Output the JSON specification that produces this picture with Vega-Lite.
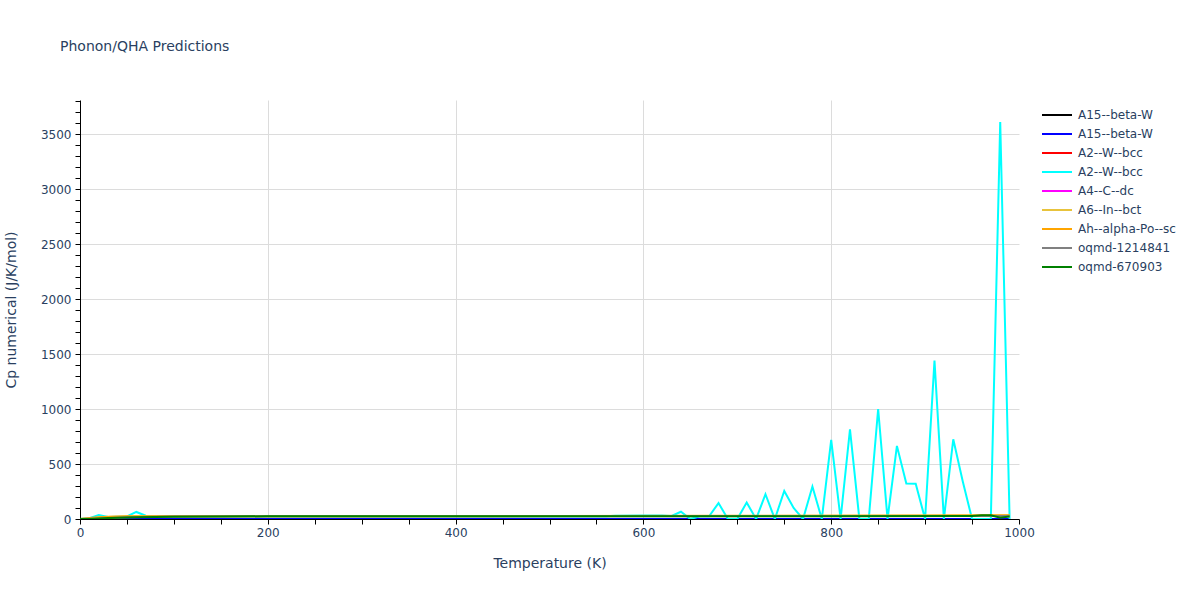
{
  "$schema": "https://vega.github.io/schema/vega-lite/v6.json",
  "autosize": "none",
  "width": 939,
  "height": 419,
  "padding": {"left": 80, "top": 100, "right": 181, "bottom": 81},
  "background": "white",
  "title": {
    "text": "Phonon/QHA Predictions",
    "anchor": "start",
    "frame": "group",
    "dx": -20,
    "offset": 30,
    "baseline": "alphabetic",
    "font": "DejaVu Sans",
    "fontSize": 14,
    "fontWeight": "normal",
    "color": "#2a3f5f"
  },
  "config": {
    "view": {"stroke": null},
    "font": "DejaVu Sans"
  },
  "data": {
    "values": [
      {"s": "A15--beta-W", "T": 0, "cp": 0.5},
      {"s": "A15--beta-W", "T": 990, "cp": 0.5},
      {"s": "A2--W--bcc", "T": 0, "cp": 0.5},
      {"s": "A2--W--bcc", "T": 990, "cp": 0.5},
      {"s": "A4--C--dc", "T": 0, "cp": 0.3},
      {"s": "A4--C--dc", "T": 100, "cp": 0.5},
      {"s": "A15--beta-W #2", "T": 0, "cp": 0.5},
      {"s": "A15--beta-W #2", "T": 990, "cp": 0.8},
      {"s": "A2--W--bcc #2", "T": 0, "cp": 0},
      {"s": "A2--W--bcc #2", "T": 10, "cp": 8},
      {"s": "A2--W--bcc #2", "T": 20, "cp": 36},
      {"s": "A2--W--bcc #2", "T": 30, "cp": 18},
      {"s": "A2--W--bcc #2", "T": 40, "cp": 21},
      {"s": "A2--W--bcc #2", "T": 50, "cp": 23},
      {"s": "A2--W--bcc #2", "T": 60, "cp": 64},
      {"s": "A2--W--bcc #2", "T": 70, "cp": 30},
      {"s": "A2--W--bcc #2", "T": 80, "cp": 26},
      {"s": "A2--W--bcc #2", "T": 90, "cp": 25},
      {"s": "A2--W--bcc #2", "T": 100, "cp": 24.5},
      {"s": "A2--W--bcc #2", "T": 200, "cp": 24.6},
      {"s": "A2--W--bcc #2", "T": 300, "cp": 24.8},
      {"s": "A2--W--bcc #2", "T": 400, "cp": 25},
      {"s": "A2--W--bcc #2", "T": 500, "cp": 25.2},
      {"s": "A2--W--bcc #2", "T": 560, "cp": 25.5},
      {"s": "A2--W--bcc #2", "T": 570, "cp": 30},
      {"s": "A2--W--bcc #2", "T": 600, "cp": 31},
      {"s": "A2--W--bcc #2", "T": 620, "cp": 32},
      {"s": "A2--W--bcc #2", "T": 630, "cp": 28},
      {"s": "A2--W--bcc #2", "T": 640, "cp": 66},
      {"s": "A2--W--bcc #2", "T": 650, "cp": 0},
      {"s": "A2--W--bcc #2", "T": 660, "cp": 24},
      {"s": "A2--W--bcc #2", "T": 670, "cp": 25},
      {"s": "A2--W--bcc #2", "T": 680, "cp": 145},
      {"s": "A2--W--bcc #2", "T": 690, "cp": 0},
      {"s": "A2--W--bcc #2", "T": 700, "cp": 0},
      {"s": "A2--W--bcc #2", "T": 710, "cp": 150},
      {"s": "A2--W--bcc #2", "T": 720, "cp": 0},
      {"s": "A2--W--bcc #2", "T": 730, "cp": 225},
      {"s": "A2--W--bcc #2", "T": 740, "cp": 0},
      {"s": "A2--W--bcc #2", "T": 750, "cp": 255},
      {"s": "A2--W--bcc #2", "T": 760, "cp": 100},
      {"s": "A2--W--bcc #2", "T": 770, "cp": 0},
      {"s": "A2--W--bcc #2", "T": 780, "cp": 295},
      {"s": "A2--W--bcc #2", "T": 790, "cp": 0},
      {"s": "A2--W--bcc #2", "T": 800, "cp": 720},
      {"s": "A2--W--bcc #2", "T": 810, "cp": 0},
      {"s": "A2--W--bcc #2", "T": 820, "cp": 815},
      {"s": "A2--W--bcc #2", "T": 830, "cp": 0},
      {"s": "A2--W--bcc #2", "T": 840, "cp": 0},
      {"s": "A2--W--bcc #2", "T": 850, "cp": 1000},
      {"s": "A2--W--bcc #2", "T": 860, "cp": 0},
      {"s": "A2--W--bcc #2", "T": 870, "cp": 665},
      {"s": "A2--W--bcc #2", "T": 880, "cp": 322},
      {"s": "A2--W--bcc #2", "T": 890, "cp": 320},
      {"s": "A2--W--bcc #2", "T": 900, "cp": 0},
      {"s": "A2--W--bcc #2", "T": 910, "cp": 1440},
      {"s": "A2--W--bcc #2", "T": 920, "cp": 0},
      {"s": "A2--W--bcc #2", "T": 930, "cp": 725},
      {"s": "A2--W--bcc #2", "T": 940, "cp": 345},
      {"s": "A2--W--bcc #2", "T": 950, "cp": 0},
      {"s": "A2--W--bcc #2", "T": 960, "cp": 0},
      {"s": "A2--W--bcc #2", "T": 970, "cp": 0},
      {"s": "A2--W--bcc #2", "T": 980, "cp": 3610},
      {"s": "A2--W--bcc #2", "T": 990, "cp": 0},
      {"s": "A6--In--bct", "T": 0, "cp": 0},
      {"s": "A6--In--bct", "T": 10, "cp": 5},
      {"s": "A6--In--bct", "T": 20, "cp": 14},
      {"s": "A6--In--bct", "T": 30, "cp": 19},
      {"s": "A6--In--bct", "T": 40, "cp": 21.5},
      {"s": "A6--In--bct", "T": 50, "cp": 23},
      {"s": "A6--In--bct", "T": 100, "cp": 24.5},
      {"s": "A6--In--bct", "T": 300, "cp": 25.2},
      {"s": "A6--In--bct", "T": 500, "cp": 26.3},
      {"s": "A6--In--bct", "T": 700, "cp": 28},
      {"s": "A6--In--bct", "T": 900, "cp": 30.5},
      {"s": "A6--In--bct", "T": 990, "cp": 32},
      {"s": "Ah--alpha-Po--sc", "T": 0, "cp": 0},
      {"s": "Ah--alpha-Po--sc", "T": 10, "cp": 8},
      {"s": "Ah--alpha-Po--sc", "T": 20, "cp": 17},
      {"s": "Ah--alpha-Po--sc", "T": 30, "cp": 21},
      {"s": "Ah--alpha-Po--sc", "T": 40, "cp": 23},
      {"s": "Ah--alpha-Po--sc", "T": 50, "cp": 24},
      {"s": "Ah--alpha-Po--sc", "T": 100, "cp": 24.8},
      {"s": "Ah--alpha-Po--sc", "T": 300, "cp": 25.5},
      {"s": "Ah--alpha-Po--sc", "T": 500, "cp": 26.5},
      {"s": "Ah--alpha-Po--sc", "T": 700, "cp": 28.5},
      {"s": "Ah--alpha-Po--sc", "T": 900, "cp": 31},
      {"s": "Ah--alpha-Po--sc", "T": 990, "cp": 33},
      {"s": "oqmd-1214841", "T": 0, "cp": 0},
      {"s": "oqmd-1214841", "T": 20, "cp": 5},
      {"s": "oqmd-1214841", "T": 50, "cp": 15},
      {"s": "oqmd-1214841", "T": 100, "cp": 22},
      {"s": "oqmd-1214841", "T": 200, "cp": 24.3},
      {"s": "oqmd-1214841", "T": 500, "cp": 25.5},
      {"s": "oqmd-1214841", "T": 800, "cp": 26.5},
      {"s": "oqmd-1214841", "T": 990, "cp": 28},
      {"s": "oqmd-670903", "T": 0, "cp": 0},
      {"s": "oqmd-670903", "T": 10, "cp": 1},
      {"s": "oqmd-670903", "T": 20, "cp": 4},
      {"s": "oqmd-670903", "T": 30, "cp": 8},
      {"s": "oqmd-670903", "T": 40, "cp": 11},
      {"s": "oqmd-670903", "T": 50, "cp": 14},
      {"s": "oqmd-670903", "T": 60, "cp": 16},
      {"s": "oqmd-670903", "T": 80, "cp": 19},
      {"s": "oqmd-670903", "T": 100, "cp": 21},
      {"s": "oqmd-670903", "T": 150, "cp": 23},
      {"s": "oqmd-670903", "T": 200, "cp": 24.2},
      {"s": "oqmd-670903", "T": 400, "cp": 24.8},
      {"s": "oqmd-670903", "T": 600, "cp": 25.3},
      {"s": "oqmd-670903", "T": 800, "cp": 25.8},
      {"s": "oqmd-670903", "T": 940, "cp": 26.2},
      {"s": "oqmd-670903", "T": 950, "cp": 28},
      {"s": "oqmd-670903", "T": 960, "cp": 34},
      {"s": "oqmd-670903", "T": 970, "cp": 33},
      {"s": "oqmd-670903", "T": 980, "cp": 12},
      {"s": "oqmd-670903", "T": 990, "cp": 22}
    ]
  },
  "mark": {"type": "line", "strokeWidth": 2, "clip": true},
  "encoding": {
    "x": {
      "field": "T",
      "type": "quantitative",
      "scale": {"domain": [0, 1000], "nice": false, "zero": false},
      "axis": {
        "title": "Temperature (K)",
        "values": [0, 50, 100, 150, 200, 250, 300, 350, 400, 450, 500, 550, 600, 650, 700, 750, 800, 850, 900, 950, 1000],
        "labelExpr": "datum.value % 200 === 0 ? datum.label : ''",
        "labelFlush": false,
        "labelOverlap": false,
        "format": "d",
        "gridOpacity": {"condition": {"test": "datum.value % 200 === 0 && datum.value > 0 && datum.value < 1000", "value": 1}, "value": 0},
        "gridColor": "#dcdcdc",
        "domainColor": "#000000",
        "tickColor": "#000000",
        "tickSize": 5,
        "labelPadding": 3,
        "labelFont": "DejaVu Sans",
        "labelFontSize": 12,
        "labelColor": "#2a3f5f",
        "titleFont": "DejaVu Sans",
        "titleFontSize": 14,
        "titleFontWeight": "normal",
        "titleColor": "#2a3f5f",
        "titlePadding": 18
      }
    },
    "y": {
      "field": "cp",
      "type": "quantitative",
      "scale": {"domain": [0, 3810], "nice": false, "zero": false},
      "axis": {
        "title": "Cp numerical (J/K/mol)",
        "values": [0, 100, 200, 300, 400, 500, 600, 700, 800, 900, 1000, 1100, 1200, 1300, 1400, 1500, 1600, 1700, 1800, 1900, 2000, 2100, 2200, 2300, 2400, 2500, 2600, 2700, 2800, 2900, 3000, 3100, 3200, 3300, 3400, 3500, 3600, 3700, 3800],
        "labelExpr": "datum.value % 500 === 0 ? datum.label : ''",
        "labelFlush": false,
        "labelOverlap": false,
        "format": "d",
        "gridOpacity": {"condition": {"test": "datum.value % 500 === 0 && datum.value > 0", "value": 1}, "value": 0},
        "gridColor": "#dcdcdc",
        "domainColor": "#000000",
        "tickColor": "#000000",
        "tickSize": 5,
        "labelPadding": 4,
        "labelFont": "DejaVu Sans",
        "labelFontSize": 12,
        "labelColor": "#2a3f5f",
        "titleFont": "DejaVu Sans",
        "titleFontSize": 14,
        "titleFontWeight": "normal",
        "titleColor": "#2a3f5f",
        "titlePadding": 22
      }
    },
    "color": {
      "field": "s",
      "type": "nominal",
      "scale": {
        "domain": ["A15--beta-W", "A15--beta-W #2", "A2--W--bcc", "A2--W--bcc #2", "A4--C--dc", "A6--In--bct", "Ah--alpha-Po--sc", "oqmd-1214841", "oqmd-670903"],
        "range": ["#000000", "#0000ff", "#ff0000", "#00ffff", "#ff00ff", "#e8c33c", "#ffa500", "#808080", "#008000"]
      },
      "legend": {
        "title": null,
        "orient": "none",
        "legendX": 971,
        "legendY": 9,
        "padding": 0,
        "symbolType": "M-3,0H3",
        "symbolSize": 100,
        "symbolStrokeWidth": 2,
        "labelOffset": 15,
        "rowPadding": 7,
        "labelExpr": "split(datum.label, ' #')[0]",
        "labelFont": "DejaVu Sans",
        "labelFontSize": 12,
        "labelColor": "#2a3f5f"
      }
    }
  }
}
